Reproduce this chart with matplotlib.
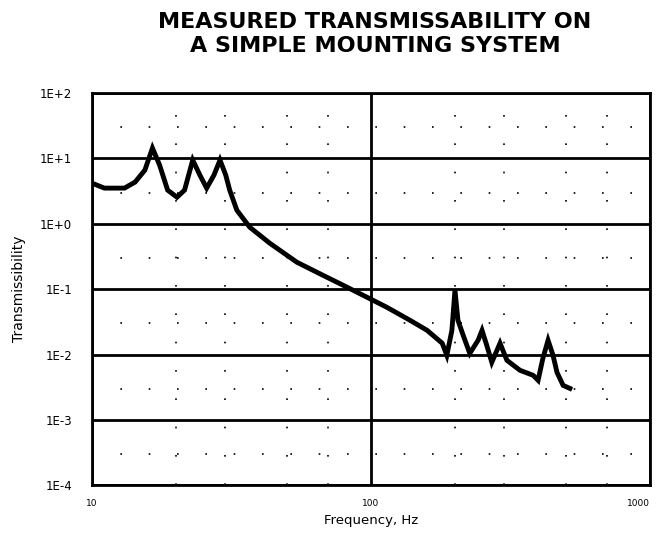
import numpy as np
import matplotlib.pyplot as plt
from matplotlib.ticker import LogLocator, FixedLocator, NullFormatter

# measured transmissibility vs frequency
freq = [10.0, 11.1, 13.1, 14.3, 15.5, 16.5, 17.5, 18.7, 20.2, 21.5, 23.0, 24.4,
        25.8, 27.4, 28.8, 30.2, 31.2, 33.1, 36.8, 43.4, 54.3, 67.3, 79.4, 96.8,
        114, 138, 159, 180, 187, 195, 200, 205, 214, 226, 242, 250, 260, 271,
        290, 307, 342, 381, 397, 413, 431, 449, 464, 488, 516]
trans = [4.19, 3.51, 3.51, 4.34, 6.62, 14.4, 7.9, 3.27, 2.55, 3.27, 9.42, 5.55,
         3.51, 5.55, 9.42, 5.55, 3.27, 1.61, 0.887, 0.505, 0.258, 0.163, 0.115,
         0.0752, 0.0528, 0.0334, 0.0234, 0.0149, 0.00973, 0.0234, 0.0962,
         0.0334, 0.0197, 0.0104, 0.0165, 0.0234, 0.0138, 0.0076, 0.0149,
         0.00815, 0.00573, 0.00481, 0.00403, 0.00875, 0.0165, 0.00973, 0.00533,
         0.00337, 0.00303]

x_ticks = [10, 100, 1000]
x_labels = ['10', '100', '1000']
y_ticks = [1e-4, 1e-3, 1e-2, 1e-1, 1e0, 1e1, 1e2]
y_labels = ['1E-4', '1E-3', '1E-2', '1E-1', '1E+0', '1E+1', '1E+2']

fig = plt.figure(figsize=(6.6, 5.44), dpi=100)
ax = fig.add_axes([0.139, 0.108, 0.846, 0.721])

ax.plot(freq, trans, color='black', lw=3.5, solid_joinstyle='miter')

ax.set_xscale('log')
ax.set_yscale('log')
ax.set_xlim(10, 1000)
ax.set_ylim(1e-4, 1e2)

ax.xaxis.set_major_locator(FixedLocator(x_ticks))
ax.set_xticklabels(x_labels)
ax.yaxis.set_major_locator(FixedLocator(y_ticks))
ax.set_yticklabels(y_labels)
ax.xaxis.set_minor_locator(LogLocator(base=10, subs=(2, 3, 5, 7)))
ax.yaxis.set_minor_locator(LogLocator(base=10, subs=(3,)))
ax.xaxis.set_minor_formatter(NullFormatter())
ax.yaxis.set_minor_formatter(NullFormatter())
ax.tick_params(which='both', length=0)
ax.tick_params(axis='y', labelsize=8.5, pad=14)
ax.tick_params(axis='x', labelsize=6.5, pad=10)
# keep the last frequency label inside the figure
ax.get_xticklabels()[-1].set_horizontalalignment('right')

ax.grid(True, which='major', color='black', lw=2)
ax.grid(True, which='minor', color='black', lw=1.2, linestyle=(0, (1, 16)))
for s in ax.spines.values():
    s.set_linewidth(2)

ax.set_xlabel('Frequency, Hz', fontsize=9.5, labelpad=4)
ax.set_ylabel('Transmissibility', fontsize=10, labelpad=10)
fig.suptitle('MEASURED TRANSMISSABILITY ON\nA SIMPLE MOUNTING SYSTEM',
             x=0.568, y=0.978, fontsize=16, fontweight='bold', linespacing=1.25,
             family=['Liberation Sans Narrow', 'DejaVu Sans'])

fig.savefig('out.png', dpi=100)
